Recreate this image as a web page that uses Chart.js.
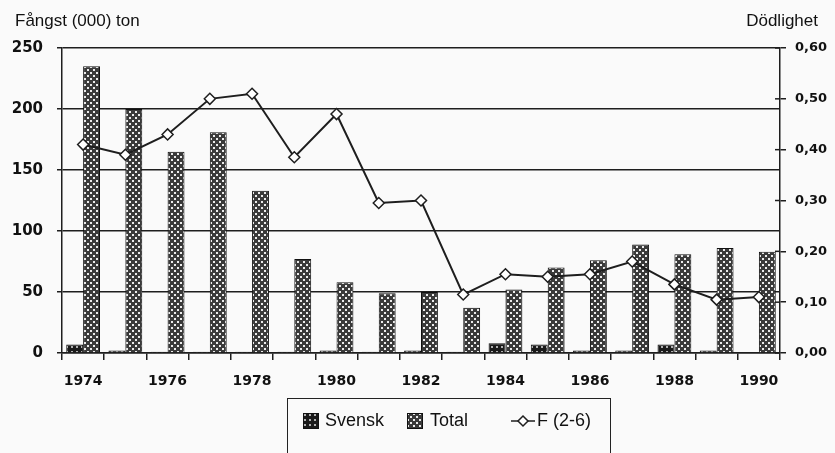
<!DOCTYPE html>
<html lang="sv">
<head>
<meta charset="UTF-8">
<title>Fångst och dödlighet</title>
<script src="https://cdn.jsdelivr.net/npm/chart.js"></script>
<style>
    html, body { margin: 0; padding: 0; background: #fafafa; overflow: hidden; }
    #wrap { position: relative; width: 835px; height: 453px; }
    #chart { position: absolute; left: 0; top: 0; }
    .axisTitle { position: absolute; font-family: "Liberation Sans", Arial, sans-serif; font-size: 17px; color: #111; top: 11px; }
    #legend {
        position: absolute; left: 287px; top: 398px; width: 324px; height: 80px;
        border: 1.5px solid #222; box-sizing: border-box;
        font-family: "Liberation Sans", Arial, sans-serif; font-size: 18px; color: #111;
    }
    #legend span { position: absolute; top: 11px; }
    #legend canvas { position: absolute; }
</style>
</head>
<body>
<div id="wrap">
    <canvas id="chart" width="835" height="453"></canvas>
    <div class="axisTitle" style="left:15px;">Fångst (000) ton</div>
    <div class="axisTitle" style="right:17px;">Dödlighet</div>
    <div id="legend">
        <canvas id="icoSvensk" width="16" height="16" style="left:15px;top:14px;"></canvas>
        <span style="left:37px;">Svensk</span>
        <canvas id="icoTotal" width="16" height="16" style="left:119px;top:14px;"></canvas>
        <span style="left:142px;">Total</span>
        <canvas id="icoF" width="24" height="14" style="left:223px;top:15px;"></canvas>
        <span style="left:249px;">F (2-6)</span>
    </div>
</div>

<script>
    // data
    const years = ['1974', '1975', '1976', '1977', '1978', '1979', '1980', '1981', '1982',
                   '1983', '1984', '1985', '1986', '1987', '1988', '1989', '1990'];
    const svensk = [7, 2, 1, 1, 1, 1, 2, 1, 2, 1, 8, 7, 2, 2, 7, 2, 0];
    const total = [235, 200, 165, 181, 133, 77, 58, 49, 50, 37, 52, 70, 76, 89, 81, 86, 83];
    const fMortality = [0.41, 0.39, 0.43, 0.50, 0.51, 0.385, 0.47, 0.295, 0.30, 0.115,
                        0.155, 0.15, 0.155, 0.18, 0.135, 0.105, 0.11];
    const leftTicks = [0, 50, 100, 150, 200, 250];
    const rightTicks = [0, 0.1, 0.2, 0.3, 0.4, 0.5, 0.6];

    const ink = '#1e1e1e';

    // dotted fills like the printed bars
    function makePattern(g, bg, dot, size, dots) {
        const c = document.createElement('canvas');
        c.width = size; c.height = size;
        const t = c.getContext('2d');
        t.fillStyle = bg;
        t.fillRect(0, 0, size, size);
        t.fillStyle = dot;
        dots.forEach(d => t.fillRect(d[0], d[1], d[2], d[2]));
        return g.createPattern(c, 'repeat');
    }
    const totalTile = ['#3a3a3a', '#ececec', 6, [[0, 0, 2], [3, 3, 2]]];
    const svenskTile = ['#1a1a1a', '#b0b0b0', 5, [[1, 1, 2]]];

    const ctx = document.getElementById('chart').getContext('2d');
    const totalFill = makePattern(ctx, ...totalTile);
    const svenskFill = makePattern(ctx, ...svenskTile);

    // inward tick marks on the right axis
    const innerTicks = {
        id: 'innerTicks',
        afterDraw(chart) {
            const s = chart.scales.y2;
            const c = chart.ctx;
            c.save();
            c.strokeStyle = ink;
            c.lineWidth = 1.5;
            rightTicks.forEach(v => {
                const y = s.getPixelForValue(v);
                c.beginPath();
                c.moveTo(s.left - 5, y);
                c.lineTo(s.left, y);
                c.stroke();
            });
            c.restore();
        }
    };

    const chart = new Chart(ctx, {
        type: 'bar',
        data: {
            labels: years,
            datasets: [
                {
                    type: 'line',
                    label: 'F (2-6)',
                    data: fMortality,
                    yAxisID: 'y2',
                    borderColor: ink,
                    borderWidth: 2,
                    pointStyle: 'rectRot',
                    pointRadius: 5.5,
                    pointBackgroundColor: '#ffffff',
                    pointBorderColor: ink,
                    pointBorderWidth: 1.5,
                    tension: 0,
                    order: 0
                },
                {
                    label: 'Svensk',
                    data: svensk,
                    yAxisID: 'y',
                    backgroundColor: svenskFill,
                    borderColor: '#111',
                    borderWidth: 1,
                    categoryPercentage: 0.8,
                    barPercentage: 1.0,
                    order: 1
                },
                {
                    label: 'Total',
                    data: total,
                    yAxisID: 'y',
                    backgroundColor: totalFill,
                    borderColor: '#111',
                    borderWidth: 1,
                    categoryPercentage: 0.8,
                    barPercentage: 1.0,
                    order: 1
                }
            ]
        },
        options: {
            responsive: false,
            animation: false,
            layout: { padding: { top: 48, bottom: 55, left: 0, right: 0 } },
            plugins: {
                legend: { display: false },
                tooltip: { enabled: false }
            },
            scales: {
                x: {
                    offset: true,
                    grid: { offset: true, drawOnChartArea: false, color: ink, lineWidth: 1.5, tickLength: 7 },
                    border: { color: ink, width: 1.5 },
                    ticks: {
                        autoSkip: false,
                        maxRotation: 0,
                        padding: 13,
                        color: '#111',
                        font: { family: 'DejaVu Sans', weight: 'bold', size: 14 },
                        callback: (v, i) => (i % 2 === 0 ? years[i] : '')
                    },
                    afterFit: s => { s.height = 45; }
                },
                y: {
                    position: 'left',
                    min: 0,
                    max: 250,
                    afterBuildTicks: s => { s.ticks = leftTicks.map(v => ({ value: v })); },
                    grid: { color: ink, lineWidth: 1.5, tickLength: 5 },
                    border: { color: ink, width: 1.5 },
                    ticks: {
                        padding: 14,
                        color: '#111',
                        font: { family: 'DejaVu Sans', weight: 'bold', size: 15 }
                    },
                    afterFit: s => { s.width = 62; }
                },
                y2: {
                    position: 'right',
                    min: 0,
                    max: 0.6,
                    afterBuildTicks: s => { s.ticks = rightTicks.map(v => ({ value: v })); },
                    grid: { drawOnChartArea: false, color: ink, lineWidth: 1.5, tickLength: 6 },
                    border: { color: ink, width: 1.5 },
                    ticks: {
                        padding: 9,
                        color: '#111',
                        font: { family: 'DejaVu Sans', weight: 'bold', size: 13 },
                        callback: v => v.toFixed(2).replace('.', ',')
                    },
                    afterFit: s => { s.width = 55; }
                }
            }
        },
        plugins: [innerTicks]
    });

    // legend icons, same fills as the chart
    function drawBox(id, tile) {
        const g = document.getElementById(id).getContext('2d');
        g.fillStyle = makePattern(g, ...tile);
        g.fillRect(0, 0, 16, 16);
        g.strokeStyle = '#111';
        g.strokeRect(0.5, 0.5, 15, 15);
    }
    drawBox('icoSvensk', svenskTile);
    drawBox('icoTotal', totalTile);

    const f = document.getElementById('icoF').getContext('2d');
    f.strokeStyle = ink;
    f.lineWidth = 1.5;
    f.beginPath(); f.moveTo(0, 7); f.lineTo(24, 7); f.stroke();
    f.fillStyle = '#fff';
    f.beginPath(); f.moveTo(12, 2); f.lineTo(17, 7); f.lineTo(12, 12); f.lineTo(7, 7); f.closePath();
    f.fill(); f.stroke();
</script>
</body>
</html>
